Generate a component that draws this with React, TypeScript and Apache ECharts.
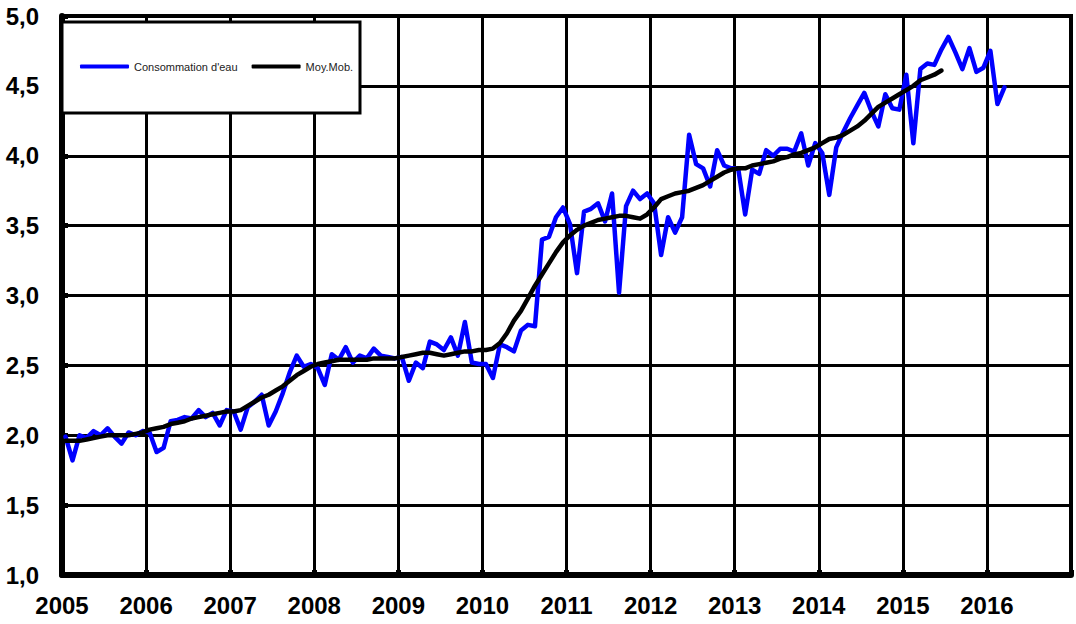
import React, { useEffect, useRef } from "react";
import * as echarts from "echarts";

const startYear = 2005;
const endYear = 2017;
const yTicks = [1.0, 1.5, 2.0, 2.5, 3.0, 3.5, 4.0, 4.5, 5.0];
const seriesNames = ["Consommation d'eau", "Moy.Mob."];

// Monthly values from Jan 2005
const consommation = [
  1.99, 1.82, 2.0, 1.98, 2.03, 2.0, 2.05, 1.99, 1.94, 2.02, 2.0, 2.03,
  2.02, 1.88, 1.91, 2.1, 2.11, 2.13, 2.12, 2.18, 2.13, 2.16, 2.07, 2.18,
  2.17, 2.04, 2.2, 2.24, 2.29, 2.07, 2.17, 2.3, 2.45, 2.57, 2.49, 2.51,
  2.48, 2.36, 2.58, 2.54, 2.63, 2.52, 2.57, 2.55, 2.62, 2.57, 2.56, 2.55,
  2.56, 2.39, 2.52, 2.48, 2.67, 2.65, 2.61, 2.7, 2.57, 2.81, 2.52, 2.51,
  2.51, 2.41, 2.65, 2.63, 2.6, 2.75, 2.79, 2.78, 3.4, 3.42, 3.56, 3.63,
  3.51, 3.16, 3.6, 3.62, 3.66, 3.53, 3.73, 3.02, 3.64, 3.75, 3.69, 3.73,
  3.66, 3.29, 3.56, 3.45, 3.56, 4.15, 3.94, 3.91, 3.78, 4.04, 3.93, 3.91,
  3.91, 3.58, 3.9, 3.87, 4.04, 4.0, 4.05, 4.05, 4.03, 4.16, 3.93, 4.09,
  4.02, 3.72, 4.06, 4.17, 4.27, 4.36, 4.45, 4.32, 4.21, 4.44, 4.34, 4.33,
  4.58, 4.09, 4.62, 4.66, 4.65, 4.76, 4.85, 4.74, 4.62, 4.77, 4.6, 4.63,
  4.75, 4.37, 4.49,
];

const moyMob = [
  1.96, 1.96, 1.96, 1.97, 1.98, 1.99, 2.0, 2.0, 2.0, 2.0, 2.01, 2.02,
  2.04, 2.05, 2.06, 2.08, 2.09, 2.1, 2.12, 2.13, 2.14, 2.15, 2.16, 2.17,
  2.17, 2.18, 2.21, 2.24, 2.27, 2.29, 2.32, 2.35, 2.39, 2.43, 2.46, 2.49,
  2.51, 2.52, 2.53, 2.54, 2.54, 2.54, 2.54, 2.54, 2.55, 2.55, 2.55, 2.55,
  2.56, 2.57, 2.58, 2.59, 2.59, 2.58, 2.57, 2.58, 2.59, 2.6, 2.6, 2.61,
  2.61, 2.62, 2.66, 2.73, 2.82, 2.89, 2.98, 3.07, 3.15, 3.23, 3.31, 3.38,
  3.43, 3.47, 3.5, 3.52, 3.54, 3.55, 3.56, 3.57, 3.57, 3.56, 3.55, 3.58,
  3.63, 3.69, 3.71, 3.73, 3.74, 3.75, 3.77, 3.79, 3.82, 3.85, 3.88, 3.9,
  3.91, 3.91, 3.93, 3.94, 3.95, 3.96, 3.98, 3.99, 4.01, 4.02, 4.04, 4.06,
  4.09, 4.12, 4.13, 4.15, 4.18, 4.21, 4.25, 4.3, 4.35, 4.38, 4.41, 4.44,
  4.47, 4.5, 4.54, 4.56, 4.58, 4.61,
];

const toPoints = (arr: number[]) =>
  arr.map((v, i) => [startYear + (i + 0.5) / 12, v]);

export default function App() {
  const ref = useRef<HTMLDivElement>(null);
  useEffect(() => {
    if (!ref.current) return;
    const chart = echarts.init(ref.current, null, { renderer: "svg" });
    const font = "'Liberation Sans', Arial, sans-serif";
    chart.setOption({
      animation: false,
      backgroundColor: "#ffffff",
      grid: {
        left: 62,
        right: 5,
        top: 16,
        bottom: 49,
        show: true,
        borderColor: "#000",
        borderWidth: 4,
        backgroundColor: "transparent",
      },
      xAxis: {
        type: "value",
        min: startYear,
        max: endYear,
        interval: 1,
        axisLine: { show: true, lineStyle: { color: "#000", width: 6 } },
        axisTick: { show: true, inside: true, length: 5, lineStyle: { color: "#000", width: 5 } },
        splitLine: { show: true, lineStyle: { color: "#000", width: 3 } },
        axisLabel: {
          margin: 18,
          color: "#000",
          fontFamily: font,
          fontWeight: "bold",
          fontSize: 24,
          formatter: (v: number) => (v >= endYear ? "" : String(v)),
        },
      },
      yAxis: {
        type: "value",
        min: yTicks[0],
        max: yTicks[yTicks.length - 1],
        interval: 0.5,
        axisLine: { show: true, lineStyle: { color: "#000", width: 6 } },
        axisTick: { show: true, inside: true, length: 6, lineStyle: { color: "#000", width: 5 } },
        splitLine: { show: true, lineStyle: { color: "#000", width: 3 } },
        axisLabel: {
          margin: 23,
          color: "#000",
          fontFamily: font,
          fontWeight: "bold",
          fontSize: 24,
          formatter: (v: number) => v.toFixed(1).replace(".", ","),
        },
      },
      graphic: [
        {
          type: "rect",
          z: 10,
          shape: { x: 62, y: 22, width: 298, height: 91 },
          style: { fill: "#fff", stroke: "#000", lineWidth: 3 },
        },
      ],
      legend: {
        z: 20,
        left: 80,
        top: 61,
        padding: 0,
        itemGap: 14,
        itemWidth: 49,
        itemHeight: 4,
        icon: "roundRect",
        textStyle: { fontFamily: font, fontSize: 11, color: "#222" },
        data: seriesNames,
      },
      series: [
        {
          name: seriesNames[0],
          type: "line",
          data: toPoints(consommation),
          showSymbol: false,
          lineStyle: { color: "#0000ff", width: 4.5, join: "round", cap: "round" },
          itemStyle: { color: "#0000ff" },
          z: 3,
        },
        {
          name: seriesNames[1],
          type: "line",
          data: toPoints(moyMob),
          showSymbol: false,
          lineStyle: { color: "#000", width: 4.5, join: "round", cap: "round" },
          itemStyle: { color: "#000" },
          z: 4,
        },
      ],
    });
    return () => chart.dispose();
  }, []);
  return (
    <div
      ref={ref}
      style={{ position: "fixed", left: 0, top: 0, width: 1076, height: 624, background: "#fff" }}
    />
  );
}
